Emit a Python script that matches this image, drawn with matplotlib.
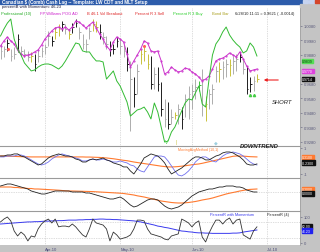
# Canadian $ daily bars with indicator panels (LW CDT and MLT setup)
import matplotlib
matplotlib.use('Agg')
import matplotlib.pyplot as plt
from matplotlib.patches import Rectangle
import pandas as pd

plt.rcParams['font.family'] = ['Liberation Sans', 'DejaVu Sans']

# trading days shown on the chart
dates = pd.bdate_range('2010-03-15', '2010-06-28')
month_labels = ['Apr-10', 'May-10', 'Jun-10', 'Jul-10']

# price bars (high, low, close) and bar type
bar_high = [0.9956, 0.9942, 0.9990, 0.9921, 0.9935, 1.0025, 0.9942, 0.9921, 0.9908, 0.9901,
            0.9887, 0.9921, 0.9935, 0.9956, 1.0046, 1.0011, 1.0073, 1.0094, 1.0114, 1.0094,
            1.0059, 1.0100, 1.0128, 1.0073, 1.0025, 0.9990, 1.0073, 1.0128, 1.0114, 1.0094,
            1.0039, 1.0011, 0.9977, 0.9956, 1.0004, 0.9990, 0.9956, 0.9935, 0.9839, 0.9728,
            0.9818, 0.9921, 0.9942, 0.9887, 0.9873, 0.9797, 0.9797, 0.9694, 0.9577, 0.9556,
            0.9508, 0.9487, 0.9542, 0.9521, 0.9611, 0.9666, 0.9680, 0.9714, 0.9701, 0.9783,
            0.9597, 0.9645, 0.9680, 0.9804, 0.9832, 0.9839, 0.9852, 0.9852, 0.9873, 0.9887,
            0.9901, 0.9852, 0.9804, 0.9728, 0.9735, 0.9749]
bar_low = [0.9852, 0.9866, 0.9908, 0.9839, 0.9852, 0.9901, 0.9873, 0.9866, 0.9839, 0.9832,
           0.9770, 0.9832, 0.9866, 0.9887, 0.9942, 0.9942, 0.9990, 1.0011, 1.0046, 1.0025,
           0.9990, 1.0032, 1.0073, 0.9990, 0.9921, 0.9901, 0.9990, 1.0046, 1.0039, 0.9990,
           0.9956, 0.9921, 0.9873, 0.9887, 0.9935, 0.9887, 0.9866, 0.9770, 0.9356, 0.9521,
           0.9611, 0.9818, 0.9839, 0.9783, 0.9645, 0.9645, 0.9632, 0.9459, 0.9383, 0.9370,
           0.9404, 0.9439, 0.9404, 0.9370, 0.9452, 0.9439, 0.9508, 0.9577, 0.9632, 0.9459,
           0.9425, 0.9508, 0.9542, 0.9694, 0.9694, 0.9714, 0.9728, 0.9735, 0.9749, 0.9770,
           0.9832, 0.9749, 0.9611, 0.9625, 0.9632, 0.9694]
bar_close = [0.9908, 0.9921, 0.9963, 0.9873, 0.9887, 0.9990, 0.9908, 0.9887, 0.9866, 0.9873,
             0.9818, 0.9873, 0.9908, 0.9935, 1.0011, 0.9977, 1.0039, 1.0059, 1.0094, 1.0059,
             1.0025, 1.0073, 1.0100, 1.0039, 0.9956, 0.9956, 1.0046, 1.0094, 1.0073, 1.0039,
             1.0004, 0.9956, 0.9921, 0.9921, 0.9977, 0.9942, 0.9908, 0.9818, 0.9714, 0.9611,
             0.9770, 0.9887, 0.9908, 0.9818, 0.9680, 0.9749, 0.9680, 0.9508, 0.9439, 0.9404,
             0.9452, 0.9466, 0.9508, 0.9439, 0.9577, 0.9611, 0.9632, 0.9659, 0.9673, 0.9714,
             0.9542, 0.9611, 0.9645, 0.9770, 0.9783, 0.9797, 0.9818, 0.9811, 0.9839, 0.9852,
             0.9866, 0.9783, 0.9645, 0.9680, 0.9701, 0.9714]
bar_type = list('ggkggkgggykgggg' 'kyykgykkggggyyk' 'ggkkkggkgkgyyyk' 'gkkgkgygkggggGg' 'ygggygg' 'yggkgkkgy')

# overlay lines on the price panel
williams_line = [0.9942, 0.9977, 1.0004, 0.9977, 0.9956, 0.9915, 0.9887, 0.9873, 0.9880, 0.9887,
                 0.9901, 0.9915, 0.9949, 0.9990, 1.0018, 1.0046, 1.0066, 1.0073, 1.0059, 1.0073,
                 1.0052, 1.0073, 1.0114, 1.0107, 1.0087, 1.0066, 1.0087, 1.0107, 1.0066, 1.0025,
                 0.9990, 0.9942, 0.9915, 0.9970, 1.0004, 0.9990, 0.9970, 0.9887, 0.9797, 0.9839,
                 0.9880, 0.9921, 0.9977, 0.9963, 0.9908, 0.9901, 0.9908, 0.9839, 0.9749, 0.9763,
                 0.9797, 0.9777, 0.9763, 0.9770, 0.9790, 0.9783, 0.9763, 0.9749, 0.9728, 0.9701,
                 0.9714, 0.9735, 0.9783, 0.9839, 0.9852, 0.9859, 0.9873, 0.9894, 0.9880, 0.9866,
                 0.9901, 0.9852, 0.9804, 0.9770, 0.9777, 0.9783]
professional_line = [1.0011, 1.0059, 1.0100, 1.0128, 0.9990, 0.9921, 0.9880, 0.9825, 0.9797, 0.9770,
                     0.9777, 0.9797, 0.9811, 0.9818, 0.9818, 0.9811, 0.9797, 0.9783, 0.9804, 0.9839,
                     0.9880, 0.9921, 0.9963, 0.9956, 0.9908, 0.9901, 0.9901, 0.9866, 0.9839, 0.9839,
                     0.9832, 0.9714, 0.9742, 0.9770, 0.9701, 0.9666, 0.9611, 0.9556, 0.9459, 0.9480,
                     0.9501, 0.9508, 0.9521, 0.9487, 0.9439, 0.9549, 0.9487, 0.9383, 0.9280, 0.9286,
                     0.9349, 0.9383, 0.9439, 0.9494, 0.9549, 0.9577, 0.9570, 0.9618, 0.9666, 0.9542,
                     0.9521, 0.9714, 0.9880, 0.9956, 0.9990, 1.0039, 1.0073, 1.0018, 0.9983, 0.9956,
                     0.9935, 0.9894, 0.9908, 0.9963, 0.9935, 0.9873]
# 0.9780 sits under the value boxes, so it is not labelled
price_ticks = [1.0080, 0.9980, 0.9880, 0.9680, 0.9580, 0.9480, 0.9380, 0.9280]

# moving average method panel
mam_fast = [0.38, 0.38, 0.46, 0.46, 0.54, 0.54, 0.38, 0.31, 0.15, 0.00,
            -0.15, -0.31, -0.23, 0.00, 0.23, 0.38, 0.46, 0.54, 0.46, 0.38,
            0.38, 0.31, 0.15, 0.08, -0.08, -0.08, 0.08, 0.15, 0.08, 0.15,
            0.23, 0.08, 0.00, -0.15, -0.23, -0.31, -0.46, -0.46, -0.77, -1.00,
            -0.62, -0.23, 0.23, 0.38, 0.54, 0.46, 0.38, 0.15, -0.15, -0.62,
            -1.00, -0.85, -0.69, -0.54, -0.31, -0.08, 0.15, 0.31, 0.31, 0.23,
            0.08, 0.08, 0.23, 0.38, 0.46, 0.62, 0.69, 0.69, 0.62, 0.46,
            0.31, 0.08, -0.23, -0.31, -0.31, -0.23]
mam_slow = [0.31, 0.31, 0.38, 0.38, 0.38, 0.46, 0.46, 0.38, 0.23, 0.08,
            -0.08, -0.23, -0.31, -0.23, -0.08, 0.15, 0.31, 0.46, 0.54, 0.46,
            0.38, 0.31, 0.23, 0.15, 0.00, 0.00, 0.08, 0.15, 0.08, 0.08,
            0.15, 0.08, 0.00, -0.08, -0.08, 0.00, -0.08, -0.15, -0.31, -0.38,
            -0.62, -0.77, -0.85, -0.46, -0.08, 0.31, 0.38, 0.38, 0.31, 0.00,
            -0.38, -0.77, -1.08, -1.15, -1.00, -0.77, -0.46, -0.08, 0.15, 0.31,
            0.31, 0.15, 0.00, -0.08, 0.15, 0.38, 0.54, 0.62, 0.69, 0.62,
            0.54, 0.38, 0.15, -0.08, -0.23, -0.31]
mam_avg = [0.38, 0.38, 0.37, 0.36, 0.35, 0.34, 0.33, 0.32, 0.32, 0.31,
           0.31, 0.31, 0.31, 0.31, 0.31, 0.31, 0.31, 0.31, 0.31, 0.31,
           0.31, 0.31, 0.31, 0.31, 0.31, 0.30, 0.30, 0.29, 0.28, 0.27,
           0.25, 0.23, 0.20, 0.17, 0.13, 0.09, 0.05, 0.02, -0.03, -0.08,
           -0.12, -0.16, -0.20, -0.24, -0.28, -0.32, -0.36, -0.40, -0.43, -0.46,
           -0.46, -0.45, -0.43, -0.40, -0.37, -0.33, -0.29, -0.26, -0.23, -0.18,
           -0.12, -0.06, 0.00, 0.06, 0.12, 0.18, 0.24, 0.30, 0.36, 0.38,
           0.38, 0.37, 0.35, 0.33, 0.32, 0.31]

# third panel oscillator
osc_line = [0.6, 0.7, 0.8, 0.8, 0.7, 0.6, 0.5, 0.4, 0.3, 0.1,
            0.0, -0.1, -0.2, -0.2, -0.1, 0.0, 0.1, 0.1, 0.1, 0.1,
            0.1, 0.0, 0.0, 0.0, 0.0, -0.1, -0.1, -0.2, -0.3, -0.4,
            -0.5, -0.6, -0.7, -0.7, -0.6, -0.5, -0.7, -1.0, -1.3, -1.5,
            -1.4, -1.2, -1.0, -0.8, -0.7, -0.7, -0.8, -1.1, -1.4, -1.6,
            -1.7, -1.6, -1.5, -1.3, -1.0, -0.7, -0.4, -0.2, 0.0, 0.1,
            0.2, 0.3, 0.3, 0.4, 0.5, 0.5, 0.6, 0.6, 0.6, 0.5,
            0.5, 0.4, 0.2, 0.1, 0.0, 0.0]
osc_avg = [0.5, 0.5, 0.5, 0.5, 0.45, 0.45, 0.4, 0.4, 0.35, 0.35,
           0.3, 0.3, 0.28, 0.26, 0.24, 0.22, 0.2, 0.18, 0.15, 0.12,
           0.1, 0.1, 0.09, 0.08, 0.07, 0.06, 0.05, 0.04, 0.02, 0.0,
           -0.02, -0.04, -0.06, -0.08, -0.1, -0.12, -0.15, -0.2, -0.25, -0.3,
           -0.38, -0.44, -0.5, -0.58, -0.66, -0.74, -0.82, -0.9, -0.95, -1.0,
           -1.05, -1.08, -1.1, -1.1, -1.08, -1.05, -1.0, -0.95, -0.88, -0.8,
           -0.74, -0.68, -0.6, -0.5, -0.4, -0.3, -0.2, -0.12, -0.05, 0.02,
           0.1, 0.16, 0.22, 0.26, 0.28, 0.3]

# percentR panel
percent_r = [81, 92, 100, 85, 46, 27, 42, 31, 8, 27,
             23, 54, 73, 85, 92, 77, 92, 62, 65, 65,
             62, 73, 62, 46, 31, 23, 54, 92, 77, 73,
             69, 54, 8, 42, 31, 15, 19, 23, 31, 54,
             88, 88, 85, 54, 35, 31, 27, 23, 15, 12,
             27, 31, 35, 92, 85, 77, 62, 77, 85, 23,
             4, 38, 65, 88, 88, 73, 88, 96, 73, 88,
             92, 31, 23, 15, 46, 62]
percent_r_mom = [73, 74, 75, 76, 77, 78, 79, 80, 81, 81,
                 82, 82, 83, 84, 84, 85, 85, 86, 86, 87,
                 88, 88, 88, 89, 89, 90, 90, 91, 91, 92,
                 92, 91, 91, 90, 90, 89, 88, 87, 86, 85,
                 83, 81, 78, 75, 72, 69, 65, 63, 60, 58,
                 55, 52, 49, 46, 45, 43, 42, 40, 39, 39,
                 38, 38, 37, 37, 37, 37, 37, 37, 38, 38,
                 39, 42, 44, 46, 48, 50]

W, H = 320, 253


def fx(x):
    return x / W


def fy(y):
    return 1 - y / H


fig = plt.figure(figsize=(3.2, 2.53), dpi=100)
fig.patch.set_facecolor('white')

# window chrome: title bar, right price strip and date strip
fig.patches.append(Rectangle((0, fy(4.5)), 1, 4.5 / H, transform=fig.transFigure,
                             color='#2d5cab', zorder=-2))
fig.patches.append(Rectangle((fx(300), 0), fx(20), fy(4.5), transform=fig.transFigure,
                             color='#c4c4c4', zorder=-2))
fig.patches.append(Rectangle((0, 0), 1, fy(246), transform=fig.transFigure,
                             color='#c4c4c4', zorder=-2))
for bx, bc in [(302.5, '#c6d3ef'), (308.5, '#c6d3ef'), (314.5, '#d4462c')]:
    fig.patches.append(Rectangle((fx(bx), fy(4.2)), fx(5), 3.6 / H, transform=fig.transFigure,
                                 color=bc, zorder=-1))
fig.text(fx(2), fy(2.3), 'Canadian $ (Comb) Cash Lag -- Template: LW CDT and MLT Setup',
         color='white', fontsize=3.3, fontweight='bold', va='center')
fig.text(fx(2), fy(7), 'percentB with Momentum: 46.23', color='#1a1a3a', fontsize=3.0, va='center')

x_left, x_width = 0, 300 / W
ax1 = fig.add_axes([x_left, fy(147), x_width, (147 - 9) / H])
ax2 = fig.add_axes([x_left, fy(179), x_width, 32 / H])
ax3 = fig.add_axes([x_left, fy(212), x_width, 33 / H])
ax4 = fig.add_axes([x_left, fy(246), x_width, 34 / H])
axes = [ax1, ax2, ax3, ax4]

idx = list(range(len(dates)))
full_days = pd.bdate_range('2010-03-15', '2010-07-01')
month_pos = [i for i in range(1, len(full_days)) if full_days[i].month != full_days[i - 1].month]

for ax in axes:
    ax.set_xlim(-0.15, 87.6)
    ax.set_facecolor('white')
    ax.spines['left'].set_visible(False)
    ax.spines['bottom'].set_visible(False)
    ax.spines['right'].set_color('#9a9a9a')
    ax.spines['right'].set_linewidth(0.5)
    ax.spines['top'].set_color('#9a9a9a')
    ax.spines['top'].set_linewidth(0.8)
    ax.yaxis.tick_right()
    ax.tick_params(axis='y', length=1.5, width=0.4, pad=1.2, labelsize=3.0,
                   colors='#5a5a7a')
    ax.tick_params(axis='x', length=0)
    ax.set_xticks([])
    for m in month_pos:
        ax.axvline(m, color='#bdbdbd', lw=0.5, ls=(0, (1, 1.5)), zorder=0)
ax1.spines['top'].set_visible(False)

# ---- price panel ----
colors = {'k': '#1e1e1e', 'g': '#adadad', 'y': '#c9c23c', 'G': '#3cc03c'}
for i in idx:
    c = colors[bar_type[i]]
    ax1.vlines(i, bar_low[i], bar_high[i], color=c, lw=0.7)
    ax1.hlines(bar_close[i], i, i + 0.5, color=c, lw=0.7)
ax1.plot(idx, williams_line, color='#cc33cc', lw=0.7, marker='.', ms=1.0)
ax1.plot(idx, professional_line, color='#33bb33', lw=0.7)
ax1.plot([2.2, 42], [0.9921, 0.9942], 'o', color='#ff6060', ms=1.2)
ax1.plot([73, 74.2], [0.9604, 0.9604], '^', color='#44cc44', ms=1.6)
ax1.set_ylim(0.92524, 1.02041)
ax1.set_yticks(price_ticks, ['%.4f' % t for t in price_ticks])

# legend row
legend_items = [(1, 'Professional (10)', '#22aa22'), (40, 'FP Williams POG AD', '#cc22cc'),
                (87, 'B 46.1 Vol Breakout', '#dd2222'), (135, 'Percent R 3 Sell', '#dd2222'),
                (173, 'Percent R 3 Buy', '#22cc22'), (212, 'Bond Bar', '#aaa020'),
                (235, '6/28/10 11:11 = 0.9621 ( -0.0014)', '#222222')]
for lx, lt, lc in legend_items:
    fig.text(fx(lx), fy(14), lt, color=lc, fontsize=2.9, va='center')


def value_box(ax, y, text, fc, tc):
    ax.annotate(text, xy=(1.0, y), xycoords=('axes fraction', 'data'), xytext=(1.6, 0),
                textcoords='offset points', va='center', ha='left', fontsize=2.5, color=tc,
                bbox=dict(boxstyle='square,pad=0.12', fc=fc, ec=fc), annotation_clip=False)


value_box(ax1, 0.9839, '0.9839', '#55dd55', '#0a3a0a')
value_box(ax1, 0.9770, '0.9770', '#dd44dd', 'white')
value_box(ax1, 0.9714, '0.9714', '#111111', 'white')

fig.text(fx(272), fy(102), 'SHORT', fontsize=4.2, style='italic', color='#222222', va='center')
fig.text(fx(240), fy(146.5), 'DOWNTREND', fontsize=4.2, style='italic', fontweight='bold',
         color='#222222', va='center')
ax1.annotate('', xy=(fx(261), fy(81)), xytext=(fx(281), fy(81)), xycoords='figure fraction',
             arrowprops=dict(arrowstyle='-|>', color='#ee2222', lw=0.8, mutation_scale=4))
fig.text(fx(165), fy(142.5), 'V', color='#44cc44', fontsize=3.5, va='center')
fig.text(fx(176), fy(142.5), '|', color='#c9c23c', fontsize=3.5, va='center')
fig.text(fx(214), fy(142.5), '\u25c6', color='#9fd0e0', fontsize=3.5, va='center')

# ---- moving average method panel ----
ax2.plot(idx, mam_avg, color='#ff7a30', lw=0.8)
ax2.plot(idx, mam_slow, color='#7070ee', lw=0.6)
ax2.plot(idx, mam_fast, color='#222222', lw=0.6)
ax2.set_ylim(-1.31, 1.15)
ax2.set_yticks([1, -1], ['1', '-1'])
value_box(ax2, 0.31, '0.3100', '#ff7a30', 'white')
value_box(ax2, -0.12, '-0.2300', '#111111', 'white')
fig.text(fx(178), fy(150), 'MovingAvgMethod (10,1)', color='#ff7a30', fontsize=2.6, va='center')

# ---- oscillator panel ----
ax3.axhline(0, color='#bdbdbd', lw=0.5, ls=(0, (1, 1.5)))
ax3.plot(idx, osc_avg, color='#ff7a30', lw=0.8)
ax3.plot(idx, osc_line, color='#222222', lw=0.6)
ax3.set_ylim(-1.9, 1.4)
ax3.set_yticks([])
value_box(ax3, 0.3, '0.3000', '#ff7a30', 'white')
value_box(ax3, -0.12, '0.0000', '#111111', 'white')

# ---- percentR panel ----
for lvl in [80, 20]:
    ax4.axhline(lvl, color='#bdbdbd', lw=0.5, ls=(0, (1, 1.5)))
ax4.plot(idx, percent_r_mom, color='#3a3aee', lw=0.7)
ax4.plot(idx, percent_r, color='#333333', lw=0.6)
ax4.set_ylim(-7.7, 123)
ax4.set_yticks([100, 0], ['100', '0'])
value_box(ax4, 65, '62.00', '#111111', 'white')
value_box(ax4, 48, '46.23', '#2222ee', 'white')
fig.text(fx(210), fy(215.5), 'PercentR with Momentum', color='#3a3aee', fontsize=2.8, va='center')
fig.text(fx(267), fy(215.5), 'PercentR (4)', color='#222222', fontsize=2.8, va='center')

ax4.set_xticks(month_pos, month_labels)
ax4.tick_params(axis='x', labelsize=3.0, pad=1.2, colors='#4a4a7a')
for lab in ax4.get_xticklabels():
    lab.set_horizontalalignment('left')

fig.savefig('out.png', dpi=100)
